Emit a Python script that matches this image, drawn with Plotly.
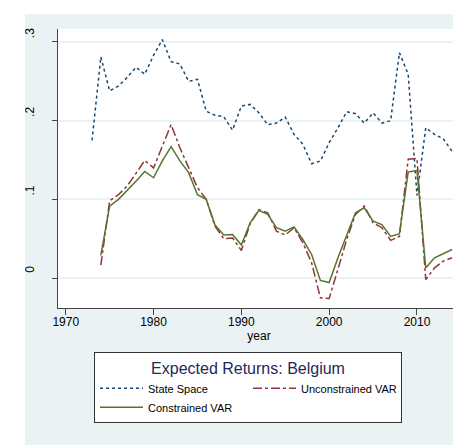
import plotly.graph_objects as go

years_ss = list(range(1973, 2015))
state_space = [0.175, 0.281, 0.238, 0.244, 0.255, 0.268, 0.259, 0.283, 0.303, 0.275,
               0.272, 0.250, 0.2525, 0.212, 0.207, 0.205, 0.188, 0.2186, 0.2207, 0.210,
               0.195, 0.197, 0.2046, 0.1826, 0.170, 0.1453, 0.1487, 0.172, 0.191, 0.2114,
               0.2089, 0.197, 0.210, 0.197, 0.200, 0.2864, 0.259, 0.105, 0.191, 0.1826,
               0.177, 0.161]

years_var = list(range(1974, 2015))
unconstrained = [0.0165, 0.098, 0.106, 0.117, 0.133, 0.1495, 0.140, 0.168, 0.195, 0.1656,
                 0.140, 0.115, 0.100, 0.066, 0.050, 0.051, 0.035, 0.069, 0.087, 0.083,
                 0.0597, 0.0547, 0.064, 0.045, 0.0194, -0.025, -0.026, 0.013, 0.049, 0.081,
                 0.0915, 0.0703, 0.064, 0.048, 0.053, 0.151, 0.152, -0.002, 0.013, 0.0216,
                 0.0258]
constrained = [0.029, 0.0915, 0.100, 0.111, 0.123, 0.1355, 0.1275, 0.149, 0.167, 0.149,
               0.134, 0.106, 0.100, 0.0674, 0.0547, 0.0554, 0.042, 0.0703, 0.086, 0.081,
               0.064, 0.0597, 0.065, 0.049, 0.030, -0.003, -0.0056, 0.0258, 0.0554, 0.083,
               0.0894, 0.0724, 0.068, 0.053, 0.0563, 0.1347, 0.1368, 0.013, 0.0258, 0.031,
               0.0364]

y_ticks = [0, 0.1, 0.2, 0.3]
y_ticktext = ["0", ".1", ".2", ".3"]
x_ticks = [1970, 1980, 1990, 2000, 2010]

BG = "#EAF2F3"
FONT = "Liberation Sans, Arial, sans-serif"

fig = go.Figure()
fig.add_trace(go.Scatter(x=years_ss, y=state_space, mode="lines", name="State Space",
                         line=dict(color="#1a476f", width=1.5, dash="dot")))
fig.add_trace(go.Scatter(x=years_var, y=unconstrained, mode="lines", name="Unconstrained VAR",
                         line=dict(color="#90353b", width=1.5, dash="dashdot")))
fig.add_trace(go.Scatter(x=years_var, y=constrained, mode="lines", name="Constrained VAR",
                         line=dict(color="#55752f", width=1.5)))

W, H = 461, 445
L, R, T, B = 50, 9, 21, 145
pw, ph = W - L - R, H - T - B

def px_x(p):
    return (p - L) / pw

def px_y(p):
    return (H - B - p) / ph

# white strips at the very top and left edge (outside the grey graph region)
fig.add_shape(type="rect", xref="paper", yref="paper", layer="above",
              x0=px_x(-5), x1=px_x(17), y0=px_y(460), y1=px_y(-5),
              fillcolor="white", line=dict(width=0))
fig.add_shape(type="rect", xref="paper", yref="paper", layer="above",
              x0=px_x(-5), x1=px_x(470), y0=px_y(6), y1=px_y(-5),
              fillcolor="white", line=dict(width=0))

fig.update_layout(
    width=W, height=H,
    margin=dict(l=L, r=R, t=T, b=B, pad=0),
    paper_bgcolor=BG, plot_bgcolor="white",
    font=dict(family=FONT, size=12, color="black"),
    xaxis=dict(range=[1969.12, 2014.9], tickvals=x_ticks, ticks="outside", ticklen=6,
               tickcolor="#444", showline=True, linecolor="#444", linewidth=1,
               ticklabelstandoff=-3,
               showgrid=False, zeroline=False, tickfont=dict(size=12),
               title=dict(text="year", font=dict(size=12), standoff=1)),
    yaxis=dict(range=[-0.038, 0.3165], tickvals=y_ticks, ticktext=y_ticktext,
               ticks="outside", ticklen=5, tickcolor="#444", tickangle=-90,
               ticklabelstandoff=13, ticklabelshift=-7,
               showline=True, linecolor="#444", linewidth=1,
               showgrid=True, gridcolor=BG, gridwidth=1.5, zeroline=False,
               tickfont=dict(size=12)),
    showlegend=True,
    legend=dict(orientation="h", x=px_x(86), xanchor="left", y=px_y(344), yanchor="top",
                bgcolor="white", bordercolor="#333", borderwidth=1,
                entrywidth=95, itemwidth=43, tracegroupgap=0,
                font=dict(size=11, color="black"),
                title=dict(text="Expected Returns: Belgium", side="top center",
                           font=dict(size=16, color="#1c2a5a"))),
)

fig.write_html("out.html")
